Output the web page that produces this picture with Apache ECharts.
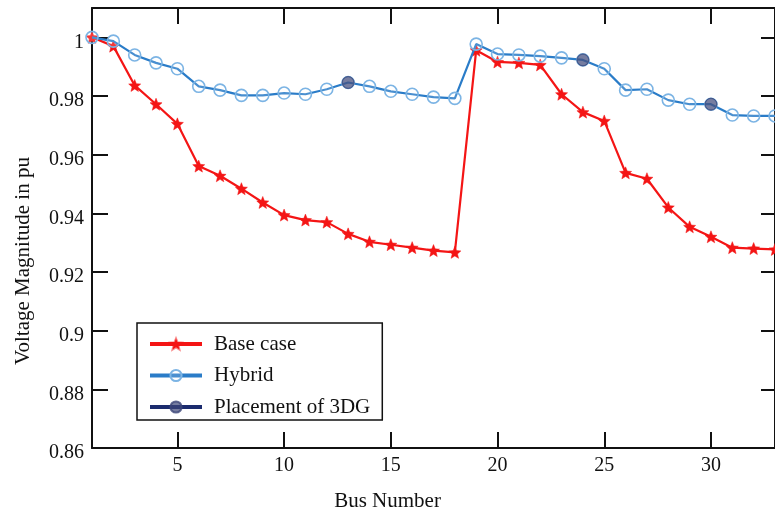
<!DOCTYPE html>
<html>
<head>
<meta charset="utf-8">
<script src="https://cdn.jsdelivr.net/npm/echarts@6/dist/echarts.min.js"></script>
<style>
html,body{margin:0;padding:0;background:#fff;}
#c{width:775px;height:517px;}
</style>
</head>
<body>
<div id="c"></div>
<script>
const buses = [1,2,3,4,5,6,7,8,9,10,11,12,13,14,15,16,17,18,19,20,21,22,23,24,25,26,27,28,29,30,31,32,33];
const baseCase = [1.0,0.997,0.9836,0.9772,0.9705,0.9561,0.9528,0.9484,0.9437,0.9394,0.9377,0.937,0.933,0.9303,0.9293,0.9283,0.9273,0.9267,0.9956,0.9916,0.9913,0.9906,0.9806,0.9745,0.9715,0.9538,0.9518,0.942,0.9354,0.932,0.9283,0.928,0.9277];
const hybrid = [1.0,0.9987,0.994,0.9913,0.9893,0.9833,0.982,0.9802,0.9802,0.981,0.9806,0.9823,0.9846,0.9833,0.9816,0.9806,0.9796,0.9792,0.9977,0.9943,0.994,0.9936,0.993,0.9923,0.9893,0.982,0.9823,0.9786,0.9772,0.9772,0.9735,0.9732,0.9732];
const placementBuses = [13,24,30];
const placementValues = [0.9846,0.9923,0.9772];
const xTicks = [5,10,15,20,25,30];
const seriesNames = ['Base case','Hybrid','Placement of 3DG'];

const star = 'path://M0,-10 L2.6,-3.6 9.5,-3.1 4.2,1.4 5.9,8.1 0,4.4 -5.9,8.1 -4.2,1.4 -9.5,-3.1 -2.6,-3.6Z';
const font = 'Liberation Serif';

const chart = echarts.init(document.getElementById('c'));
const pairs = (ys) => buses.map((b,i) => [b, ys[i]]);
const placementData = buses.map(b => {
  const k = placementBuses.indexOf(b);
  return k >= 0 ? [b, placementValues[k]] : [b, '-'];
});

const axisLine = {show:true, lineStyle:{color:'#111', width:2}};
chart.setOption({
  animation:false,
  backgroundColor:'#fff',
  grid:{left:92, right:-2, top:8, bottom:60, containLabel:false},
  legend:{
    orient:'vertical', left:137, top:323,
    data:seriesNames,
    backgroundColor:'#fff',
    borderColor:'#111', borderWidth:1.5, borderRadius:0,
    padding:[10,12,2,11],
    itemWidth:52, itemHeight:14, itemGap:9.5,
    lineStyle:{width:4},
    textStyle:{fontFamily:font, fontSize:21, color:'#111', lineHeight:22, padding:[0,0,0,7]}
  },
  xAxis:[{
    type:'value', min:1, max:33, position:'bottom',
    name:'Bus Number', nameLocation:'middle', nameGap:43,
    nameTextStyle:{fontFamily:font, fontSize:21, color:'#111', padding:[0,92,0,0]},
    axisLine:axisLine,
    axisTick:{show:true, inside:true, length:16, customValues:xTicks, lineStyle:{color:'#111', width:2}},
    axisLabel:{show:true, customValues:xTicks, fontFamily:font, fontSize:20, color:'#111', margin:8},
    splitLine:{show:false}
  },{
    type:'value', min:1, max:33, position:'top',
    axisLine:axisLine,
    axisTick:{show:true, inside:true, length:16, customValues:xTicks, lineStyle:{color:'#111', width:2}},
    axisLabel:{show:false},
    splitLine:{show:false}
  }],
  yAxis:[{
    type:'value', min:0.86, max:1.01, interval:0.02, position:'left',
    name:'Voltage Magnitude in pu', nameLocation:'middle', nameGap:58, nameRotate:90,
    nameTextStyle:{fontFamily:font, fontSize:21, color:'#111', padding:[0,66,0,0]},
    axisLine:axisLine,
    axisTick:{show:true, inside:true, length:16, lineStyle:{color:'#111', width:2}},
    axisLabel:{show:true, showMaxLabel:false, fontFamily:font, fontSize:20, color:'#111', margin:8,
      verticalAlign:'top', lineHeight:10,
      formatter:(v)=>String(Math.round(v*100)/100)},
    splitLine:{show:false}
  },{
    type:'value', min:0.86, max:1.01, interval:0.02, position:'right',
    axisLine:axisLine,
    axisTick:{show:true, inside:true, length:14, lineStyle:{color:'#111', width:2}},
    axisLabel:{show:false},
    splitLine:{show:false}
  }],
  series:[{
    name:seriesNames[0], type:'line', data:pairs(baseCase),
    symbol:star, symbolSize:12, showAllSymbol:true,
    lineStyle:{color:'#f41515', width:2.2},
    itemStyle:{color:'#f41515', borderColor:'rgba(244,21,21,0.5)', borderWidth:1},
    z:2
  },{
    name:seriesNames[1], type:'line', data:pairs(hybrid),
    symbol:'circle', symbolSize:12, showAllSymbol:true,
    lineStyle:{color:'#2a7cc8', width:2.2},
    itemStyle:{color:'rgba(255,255,255,0.15)', borderColor:'#7cb4e4', borderWidth:1.6},
    z:3
  },{
    name:seriesNames[2], type:'line', data:placementData,
    symbol:'circle', symbolSize:12, showAllSymbol:true,
    lineStyle:{color:'#1b2b6e', width:2},
    itemStyle:{color:'rgba(60,70,120,0.7)', borderColor:'rgba(60,70,120,0.8)', borderWidth:1},
    z:4
  }]
});
</script>
</body>
</html>
